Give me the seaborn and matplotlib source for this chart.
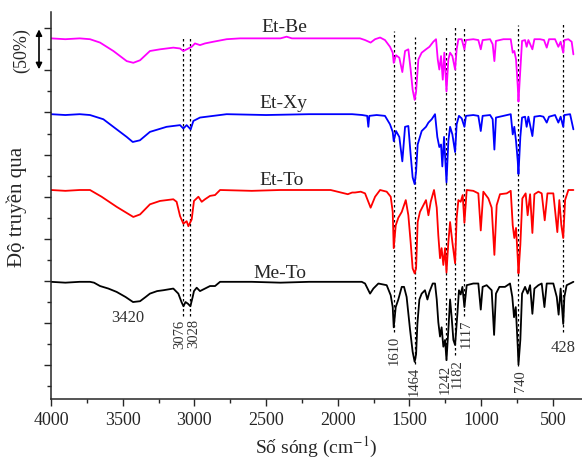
import pandas as pd
import seaborn as sns
import matplotlib.pyplot as plt
from matplotlib.ticker import MultipleLocator

# IR spectra: wavenumber (cm-1) and transmittance (%)
meto_wn = [4000, 3900, 3800, 3728, 3700, 3658, 3600, 3542, 3480, 3428,
           3379, 3340, 3310, 3260, 3217, 3147, 3112, 3090, 3076, 3062,
           3045, 3028, 3012, 3003, 2984, 2961, 2926, 2891, 2856, 2821,
           2600, 2400, 2200, 2000, 1900, 1833, 1810, 1775, 1752, 1717,
           1659, 1631, 1617, 1610, 1596, 1578, 1554, 1538, 1520, 1496,
           1478, 1464, 1454, 1445, 1431, 1415, 1392, 1375, 1361, 1338,
           1322, 1310, 1299, 1287, 1276, 1264, 1252, 1242, 1229, 1217,
           1206, 1194, 1182, 1166, 1155, 1143, 1131, 1117, 1101, 1055,
           1020, 1003, 990, 962, 927, 910, 897, 873, 834, 799,
           783, 771, 759, 745, 740, 727, 715, 694, 676, 659,
           643, 629, 601, 578, 559, 543, 497, 473, 460, 446,
           428, 420, 404, 380, 357]
meto_t = [100, 99, 100, 100, 99, 95, 92, 88, 82, 76,
          77, 82, 86, 89, 90, 92, 86, 76, 71, 76,
          74, 71, 82, 89, 93, 89, 92, 95, 95, 100,
          100, 99, 100, 100, 100, 100, 98, 86, 92, 98,
          96, 84, 70, 46, 70, 79, 94, 94, 82, 43,
          17, 5, 14, 50, 79, 86, 90, 79, 88, 98,
          98, 79, 52, 35, 46, 23, 31, 7, 43, 79,
          58, 31, 25, 62, 90, 85, 94, 70, 96, 98,
          98, 67, 94, 96, 90, 37, 86, 94, 94, 98,
          82, 58, 70, 23, 2, 31, 86, 94, 86, 96,
          62, 92, 96, 98, 70, 98, 98, 82, 61, 92,
          50, 82, 96, 98, 100]

etto_wn = [4000, 3900, 3800, 3728, 3647, 3542, 3426, 3379, 3310, 3240,
           3147, 3124, 3100, 3077, 3054, 3042, 3019, 3003, 2972, 2949,
           2926, 2891, 2856, 2821, 2600, 2400, 2200, 2050, 1930, 1900,
           1880, 1840, 1810, 1771, 1740, 1705, 1659, 1631, 1617, 1610,
           1596, 1578, 1554, 1526, 1508, 1492, 1478, 1464, 1454, 1443,
           1427, 1403, 1385, 1368, 1352, 1329, 1310, 1299, 1287, 1276,
           1264, 1252, 1242, 1229, 1217, 1201, 1182, 1171, 1159, 1143,
           1129, 1117, 1101, 1055, 1020, 1003, 985, 950, 927, 908,
           892, 869, 822, 794, 780, 769, 757, 745, 740, 727,
           713, 690, 676, 659, 643, 629, 601, 578, 557, 538,
           497, 469, 455, 441, 428, 415, 392, 357]
etto_t = [100, 99, 100, 100, 92, 80, 68, 71, 83, 87,
          89, 86, 69, 60, 63, 57, 65, 87, 92, 86,
          89, 93, 94, 100, 99, 100, 100, 100, 95, 97,
          97, 98, 96, 79, 92, 100, 98, 92, 74, 31,
          58, 67, 74, 88, 70, 38, 7, 1, 7, 62,
          74, 82, 88, 70, 86, 100, 79, 46, 19, 31,
          11, 31, 2, 38, 62, 38, 13, 67, 88, 86,
          94, 61, 100, 99, 96, 52, 98, 90, 79, 23,
          82, 95, 96, 99, 58, 43, 55, 19, 1, 35,
          90, 96, 70, 95, 49, 95, 98, 96, 64, 96,
          96, 50, 88, 58, 43, 88, 100, 100]

etxy_wn = [4000, 3900, 3800, 3728, 3635, 3542, 3472, 3430, 3380, 3310,
           3194, 3100, 3077, 3054, 3026, 3007, 2961, 2868, 2775, 2500,
           2200, 2000, 1900, 1830, 1795, 1787, 1780, 1729, 1671, 1636,
           1617, 1610, 1594, 1571, 1550, 1531, 1508, 1492, 1478, 1464,
           1454, 1443, 1415, 1385, 1368, 1345, 1322, 1306, 1292, 1280,
           1271, 1259, 1242, 1229, 1217, 1201, 1182, 1171, 1155, 1136,
           1117, 1106, 1055, 1020, 1003, 990, 938, 920, 908, 897,
           845, 794, 780, 769, 757, 745, 740, 727, 715, 694,
           683, 671, 643, 629, 590, 566, 543, 527, 485, 462,
           446, 428, 420, 380, 357]
etxy_t = [100, 99, 100, 99, 94, 82, 73, 67, 69, 79,
          85, 87, 83, 87, 82, 92, 96, 98, 100, 99,
          100, 100, 100, 99, 98, 85, 98, 99, 98, 88,
          79, 68, 80, 73, 44, 85, 86, 52, 25, 17,
          32, 64, 80, 85, 90, 94, 100, 73, 61, 64,
          38, 73, 19, 68, 85, 76, 55, 88, 98, 95,
          85, 98, 99, 98, 80, 98, 99, 94, 58, 96,
          98, 100, 76, 85, 68, 44, 29, 73, 96, 97,
          85, 97, 74, 97, 98, 97, 90, 97, 99, 90,
          97, 85, 99, 100, 82]

etbe_wn = [4000, 3900, 3800, 3728, 3658, 3565, 3472, 3426, 3379, 3310,
           3240, 3147, 3100, 3077, 3042, 3019, 2996, 2961, 2926, 2868,
           2775, 2682, 2400, 2357, 2320, 2000, 1900, 1845, 1810, 1771,
           1740, 1705, 1671, 1636, 1617, 1610, 1594, 1571, 1550, 1531,
           1508, 1492, 1478, 1464, 1454, 1438, 1415, 1385, 1361, 1334,
           1315, 1303, 1292, 1280, 1268, 1257, 1242, 1229, 1217, 1201,
           1182, 1171, 1159, 1136, 1117, 1106, 1055, 1020, 1003, 990,
           938, 920, 908, 897, 845, 794, 780, 769, 757, 745,
           740, 727, 715, 694, 683, 671, 643, 629, 590, 562,
           543, 527, 485, 462, 446, 428, 420, 392, 369, 357]
etbe_t = [100, 99, 100, 99, 95, 85, 73, 71, 74, 85,
          87, 89, 88, 85, 88, 90, 94, 92, 94, 96,
          99, 100, 100, 102, 100, 100, 100, 100, 98, 95,
          99, 101, 98, 90, 83, 71, 80, 77, 60, 85,
          87, 63, 39, 27, 37, 75, 83, 87, 90, 96,
          99, 75, 63, 79, 51, 83, 37, 75, 83, 79,
          63, 87, 99, 99, 87, 98, 99, 98, 87, 98,
          99, 93, 73, 97, 99, 99, 83, 85, 75, 43,
          25, 63, 97, 98, 90, 98, 87, 99, 99, 98,
          89, 99, 99, 90, 96, 83, 98, 99, 96, 81]

samples = ["Me-To", "Et-To", "Et-Xy", "Et-Be"]
colors = ["black", "red", "blue", "magenta"]
shifts = [24, 133, 223, 313]  # vertical stacking of the spectra

# marked bands
peak_wn = [3076, 3028, 1610, 1464, 1242, 1182, 1117, 740]
peak_top = [416, 416, 422, 415, 416, 426, 426, 429]
peak_bottom = [83, 83, 65, 27, 31, 37, 84, 24]
# where the rotated numbers sit (a little off the line where they crowd)
label_x = [3100, 3004, 1610, 1464, 1250, 1168, 1104, 728]
label_top = [80, 81, 61, 24, 27, 33, 80, 20]

# build one long table
frames = []
for name, wn, t, s in zip(samples, [meto_wn, etto_wn, etxy_wn, etbe_wn],
                          [meto_t, etto_t, etxy_t, etbe_t], shifts):
    d = pd.DataFrame({"wn": wn, "T": t})
    d["sample"] = name
    d["y"] = d["T"] + s
    frames.append(d)
df = pd.concat(frames, ignore_index=True)

sns.set_style("ticks")
plt.rcParams["font.family"] = ["Liberation Serif", "DejaVu Serif"]
plt.rcParams["mathtext.fontset"] = "stix"

fig = plt.figure(figsize=(5.82, 4.6), dpi=100)
ax = fig.add_axes([51 / 582, 60 / 460, 531 / 582, 387 / 460])

# dotted guide lines
for w, top, bot in zip(peak_wn, peak_top, peak_bottom):
    ax.plot([w, w], [bot, top], color="black", lw=0.9, ls=(0, (2, 2)), zorder=1)
ax.plot([428, 428], [64, 431], color="black", lw=0.9, ls=(0, (2, 2)), zorder=1)

sns.lineplot(data=df, x="wn", y="y", hue="sample", palette=dict(zip(samples, colors)),
             estimator=None, sort=False, legend=False, linewidth=1.3, ax=ax, zorder=2)

# sample names
name_x = [2403, 2389, 2382, 2375]
name_y = [130, 240, 331, 422]
for name, x, y in zip(samples, name_x, name_y):
    ax.text(x, y, name, ha="center", va="baseline", fontsize=14)

# band labels
for w, x, yt in zip(peak_wn, label_x, label_top):
    ax.text(x, yt, str(w), rotation=90, ha="center", va="top", fontsize=10.5, color="#333333")
ax.text(3463, 82, "3420", ha="center", va="center", fontsize=12, color="#333333")
ax.text(428, 47, "428", ha="center", va="center", fontsize=12, color="#333333")

# 50% scale bar
ax.annotate("", xy=(-0.0226, 427), xytext=(-0.0226, 373),
            xycoords=ax.get_yaxis_transform(), textcoords=ax.get_yaxis_transform(),
            arrowprops=dict(arrowstyle="<|-|>", color="black", lw=1.2, mutation_scale=9),
            annotation_clip=False)
ax.text(-0.055, 400, "(50%)", rotation=90, ha="center", va="center", fontsize=13,
        transform=ax.get_yaxis_transform())

ax.set_xlim(4000, 297)
ax.set_ylim(-15.1, 444.3)
ax.xaxis.set_major_locator(MultipleLocator(500))
ax.xaxis.set_minor_locator(MultipleLocator(250))
ax.set_yticks(range(25, 426, 50))
ax.set_yticks(range(0, 401, 50), minor=True)
ax.set_yticklabels([])
ax.tick_params(axis="both", which="major", direction="out", length=5, width=1, labelsize=13, pad=4)
ax.tick_params(axis="both", which="minor", direction="out", length=3, width=1)
for sp in ["top", "right"]:
    ax.spines[sp].set_visible(False)
for sp in ["left", "bottom"]:
    ax.spines[sp].set_linewidth(1.1)

ax.set_xlabel("Số sóng (cm$^{-1}$)", fontsize=14, labelpad=4)
ax.set_ylabel("Độ truyền qua", fontsize=15)
ax.yaxis.set_label_coords(-0.045, 0.5)

fig.savefig("out.png", dpi=100)
